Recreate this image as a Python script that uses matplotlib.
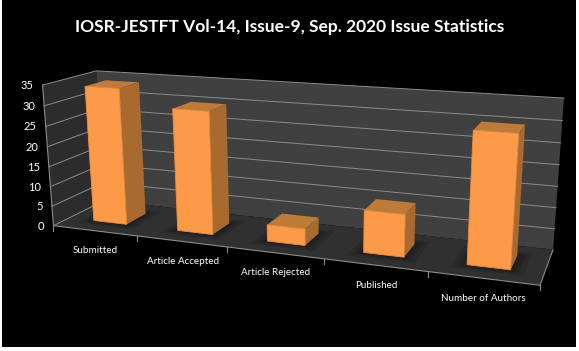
import numpy as np
import matplotlib
matplotlib.use("Agg")
import matplotlib.pyplot as plt
from matplotlib.patches import Polygon, Rectangle

plt.rcParams['font.family'] = ['Lato', 'DejaVu Sans']

title = "IOSR-JESTFT Vol-14, Issue-9, Sep. 2020 Issue Statistics"
categories = ["Submitted", "Article Accepted", "Article Rejected", "Published", "Number of Authors"]
values = [34, 30, 4, 10, 30]
yticks = [0, 5, 10, 15, 20, 25, 30, 35]

# box corners (category, depth, value) -> where they land in the picture
box_pts = [(0, 0, 0), (5, 0, 0), (5, 1, 0), (0, 1, 0), (0, 0, 35), (0, 1, 35), (5, 1, 35)]
pix_pts = [(53, 226), (540, 285), (553, 250), (105, 200), (43, 85), (96, 71), (564, 98)]


def fit_camera(box, pix):
    rows = []
    for (x, y, z), (u, v) in zip(box, pix):
        z = z / 35
        rows.append([x, y, z, 1, 0, 0, 0, 0, -u * x, -u * y, -u * z, -u])
        rows.append([0, 0, 0, 0, x, y, z, 1, -v * x, -v * y, -v * z, -v])
    return np.linalg.svd(np.array(rows, dtype=float))[2][-1].reshape(3, 4)


cam = fit_camera(box_pts, pix_pts)


def proj(x, y, z):
    p = cam @ np.array([x, y, z / 35, 1.0])
    return p[0] / p[2], p[1] / p[2]


def face(ax, corners, color, z=1, **kw):
    ax.add_patch(Polygon([proj(*c) for c in corners], closed=True, facecolor=color,
                         edgecolor=kw.pop("edgecolor", "none"), zorder=z, **kw))


fig = plt.figure(figsize=(5.79, 3.51), dpi=100, facecolor="white")
ax = fig.add_axes([0, 0, 1, 1])
ax.set_xlim(0, 579)
ax.set_ylim(351, 0)
ax.axis("off")
ax.add_patch(Rectangle((2, 0), 574, 347, facecolor="black", edgecolor="none", zorder=0))

ax.text(290, 27, title, color="white", fontsize=12.5, fontweight="bold",
        ha="center", va="center")

# walls and floor
face(ax, [(0, 0, 0), (0, 1, 0), (0, 1, 35), (0, 0, 35)], "#2c2c2c")
face(ax, [(0, 1, 0), (5, 1, 0), (5, 1, 35), (0, 1, 35)], "#404040")
face(ax, [(0, 0, 0), (5, 0, 0), (5, 1, 0), (0, 1, 0)], "#303030")

grid = "#8c8c8c"
for v in yticks[1:]:
    a, b, c = proj(0, 0, v), proj(0, 1, v), proj(5, 1, v)
    ax.plot([a[0], b[0], c[0]], [a[1], b[1], c[1]], color=grid, lw=0.7, zorder=2)
a, b, c, d = proj(0, 0, 35), proj(0, 0, 0), proj(5, 0, 0), proj(5, 1, 0)
ax.plot([a[0], b[0], c[0], d[0]], [a[1], b[1], c[1], d[1]], color=grid, lw=0.8, zorder=2)
a, b = proj(0, 0, 0), proj(0, 1, 0)
ax.plot([a[0], b[0]], [a[1], b[1]], color=grid, lw=0.7, zorder=2)

for i in range(6):
    u, v = proj(i, 0, 0)
    ax.plot([u, u], [v, v + 5], color=grid, lw=0.8, zorder=2)

for v in yticks:
    u, w = proj(0, 0, v)
    ax.text(u - 9, w + 0.5, str(v), color="white", fontsize=8, ha="right", va="center")

for i, name in enumerate(categories):
    u, v = proj(i + 0.5, 0, 0)
    ax.text(u + 1, v + 20, name, color="white", fontsize=7.1, ha="center", va="center")

# bars
half = 0.2
y0, y1 = 0.3, 0.7
for i, val in enumerate(values):
    l, r = i + 0.5 - half, i + 0.5 + half
    for grow, alpha in [(0.13, 0.25), (0.08, 0.35), (0.04, 0.45)]:
        face(ax, [(l - grow, y0 - grow, 0), (r + grow, y0 - grow, 0),
                  (r + grow, y1 + grow, 0), (l - grow, y1 + grow, 0)],
             "#1a1a1a", z=3, alpha=alpha)
    z = 4 + i
    face(ax, [(l, y0, val), (r, y0, val), (r, y1, val), (l, y1, val)], "#BE7A38", z=z)
    face(ax, [(r, y0, 0), (r, y1, 0), (r, y1, val), (r, y0, val)], "#A96A30", z=z)
    face(ax, [(l, y0, 0), (r, y0, 0), (r, y0, val), (l, y0, val)], "#FD9A47", z=z,
         edgecolor="#E88C40", linewidth=0.6)

fig.savefig("out.png", dpi=100, facecolor="white")
